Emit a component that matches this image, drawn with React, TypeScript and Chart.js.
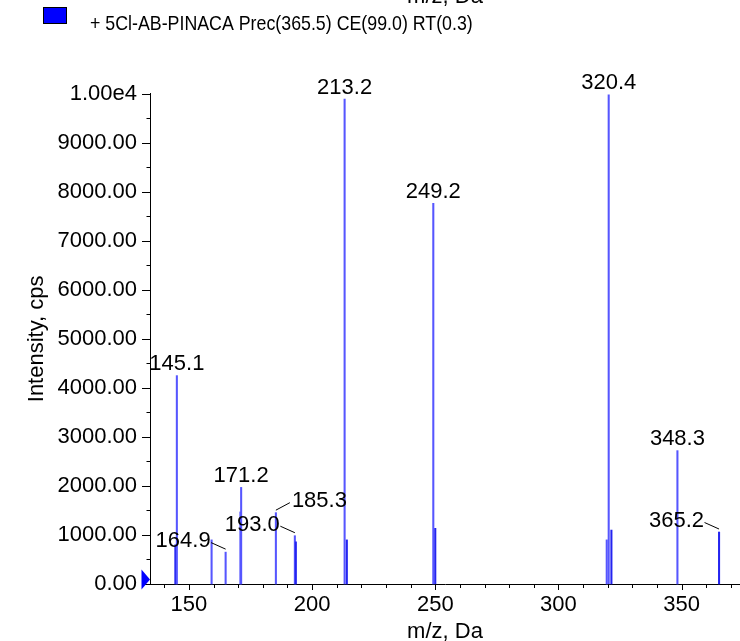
import React, { useEffect, useRef } from 'react';
import { Chart, registerables } from 'chart.js';

Chart.register(...registerables);

// Peak list (m/z, intensity in cps)
const mzValues = [144.5, 145.1, 159.2, 164.9, 170.9, 171.2, 185.3, 193.0, 193.4, 213.2, 214.1, 249.2, 250.0, 319.6, 320.4, 321.5, 348.3, 365.2];
const intensities = [800, 4250, 900, 650, 1470, 1970, 1455, 985, 860, 9890, 900, 7765, 1135, 900, 9975, 1100, 2720, 1060];

// Annotated peaks
const labelMz = [145.1, 164.9, 171.2, 185.3, 193.0, 213.2, 249.2, 320.4, 348.3, 365.2];
const labelPlacement = ['above', 'left', 'above', 'upright', 'left', 'above', 'above', 'above', 'above', 'left'];

// Axes
const xMin = 134.2;
const xMax = 373.7;
const xMajorTicks = [150, 200, 250, 300, 350];
const yMax = 10000;
const yTickLabels: Record<number, string> = {
  0: '0.00', 1000: '1000.00', 2000: '2000.00', 3000: '3000.00', 4000: '4000.00',
  5000: '5000.00', 6000: '6000.00', 7000: '7000.00', 8000: '8000.00', 9000: '9000.00', 10000: '1.00e4',
};

const legendText = '+ 5Cl-AB-PINACA Prec(365.5) CE(99.0) RT(0.3)';
const xTitle = 'm/z, Da';
const yTitle = 'Intensity, cps';

const FONT = "'Liberation Sans', Arial, Helvetica, sans-serif";
const darkIdx = [0, 8, 10, 12, 15, 17];

const overlayPlugin = {
  id: 'overlay',
  afterDraw(chart: any) {
    const ctx = chart.ctx as CanvasRenderingContext2D;
    const xs = chart.scales.x;
    const ys = chart.scales.y;
    const area = chart.chartArea;
    ctx.save();
    ctx.strokeStyle = '#000';
    ctx.lineWidth = 1;
    // y tick marks
    ys.ticks.forEach((t: any) => {
      const p = Math.round(ys.getPixelForValue(t.value)) + 0.5;
      const len = t.value % 1000 === 0 ? 8 : 3.5;
      ctx.beginPath();
      ctx.moveTo(area.left - len, p);
      ctx.lineTo(area.left, p);
      ctx.stroke();
    });
    // x tick marks
    xs.ticks.forEach((t: any) => {
      const p = Math.round(xs.getPixelForValue(t.value)) + 0.5;
      const len = t.value % 50 === 0 ? 6 : 4;
      ctx.beginPath();
      ctx.moveTo(p, area.bottom);
      ctx.lineTo(p, area.bottom + len);
      ctx.stroke();
    });
    // blue marker triangle at origin
    const y0 = ys.getPixelForValue(0);
    ctx.fillStyle = '#0000ff';
    ctx.beginPath();
    ctx.moveTo(area.left - 8.5, y0 - 14.5);
    ctx.lineTo(area.left - 8.5, y0 + 5.5);
    ctx.lineTo(area.left, y0 - 4.5);
    ctx.closePath();
    ctx.fill();

    // peak labels
    ctx.fillStyle = '#000';
    ctx.font = `22px ${FONT}`;
    ctx.textBaseline = 'alphabetic';
    labelMz.forEach((m, i) => {
      const idx = mzValues.indexOf(m);
      const px = xs.getPixelForValue(m);
      const py = ys.getPixelForValue(intensities[idx]);
      const text = m.toFixed(1);
      const place = labelPlacement[i];
      if (place === 'above') {
        ctx.textAlign = 'center';
        ctx.fillText(text, px, py - 5.5);
      } else if (place === 'left') {
        ctx.textAlign = 'right';
        ctx.fillText(text, px - 15, py - 5);
        ctx.beginPath();
        ctx.moveTo(px - 14.5, py - 9.5);
        ctx.lineTo(px, py - 3);
        ctx.stroke();
      } else {
        ctx.textAlign = 'left';
        ctx.fillText(text, px + 16, py - 5.5);
        ctx.beginPath();
        ctx.moveTo(px, py - 2.5);
        ctx.lineTo(px + 14, py - 10);
        ctx.stroke();
      }
    });

    // axis titles
    const cx = (area.left + area.right) / 2;
    ctx.textAlign = 'center';
    ctx.fillText(xTitle, cx, 638);
    ctx.fillText(xTitle, cx, 3);
    ctx.save();
    ctx.translate(43, (area.top + area.bottom) / 2);
    ctx.rotate(-Math.PI / 2);
    ctx.textAlign = 'center';
    ctx.fillText(yTitle, 0, 0);
    ctx.restore();

    // legend
    ctx.fillStyle = '#0000ff';
    ctx.fillRect(43.5, 7.5, 23, 16);
    ctx.strokeStyle = '#000';
    ctx.strokeRect(43.5, 7.5, 23, 16);
    ctx.save();
    ctx.translate(90, 30);
    ctx.scale(0.847, 1);
    ctx.fillStyle = '#000';
    ctx.textAlign = 'left';
    ctx.font = `21px ${FONT}`;
    ctx.fillText(legendText, 0, 0);
    ctx.restore();
    ctx.restore();
  },
};

export default function App() {
  const ref = useRef<HTMLCanvasElement | null>(null);
  useEffect(() => {
    if (!ref.current) return;
    const data = mzValues.map((x, i) => ({ x, y: intensities[i] }));
    const colors = mzValues.map((_, i) => (darkIdx.includes(i) ? '#2424f0' : '#5656ff'));
    const chart = new Chart(ref.current, {
      type: 'bar',
      data: {
        datasets: [
          {
            data,
            backgroundColor: colors,
            borderWidth: 0,
            barThickness: 1.4,
            grouped: false,
            clip: false as any,
          } as any,
        ],
      },
      options: {
        animation: false,
        responsive: false,
        parsing: true as any,
        layout: { padding: { top: 93.7, left: 0, right: 0, bottom: 0 } },
        plugins: { legend: { display: false }, tooltip: { enabled: false }, title: { display: false } },
        scales: {
          x: {
            type: 'linear',
            min: xMin,
            max: xMax,
            offset: false,
            grid: { display: false, drawTicks: false },
            border: { display: true, color: '#000', width: 1 },
            ticks: {
              stepSize: 10,
              includeBounds: false,
              autoSkip: false,
              maxRotation: 0,
              padding: 8,
              color: '#000',
              font: { family: FONT, size: 22 },
              callback: (v: any) => (xMajorTicks.includes(Number(v)) ? String(v) : ''),
            },
            afterFit: (s: any) => { s.height = 57; },
          },
          y: {
            type: 'linear',
            min: 0,
            max: yMax,
            grid: { display: false, drawTicks: false },
            border: { display: true, color: '#000', width: 1 },
            ticks: {
              stepSize: 500,
              autoSkip: false,
              padding: 13,
              color: '#000',
              font: { family: FONT, size: 22 },
              callback: (v: any) => yTickLabels[Number(v)] ?? '',
            },
            afterFit: (s: any) => { s.width = 150; },
          },
        },
      },
      plugins: [overlayPlugin],
    });
    return () => chart.destroy();
  }, []);
  return (
    <div style={{ position: 'absolute', left: 0, top: 0, width: 740, height: 641, background: '#fff' }}>
      <canvas ref={ref} width={740} height={641} style={{ display: 'block' }} />
    </div>
  );
}
